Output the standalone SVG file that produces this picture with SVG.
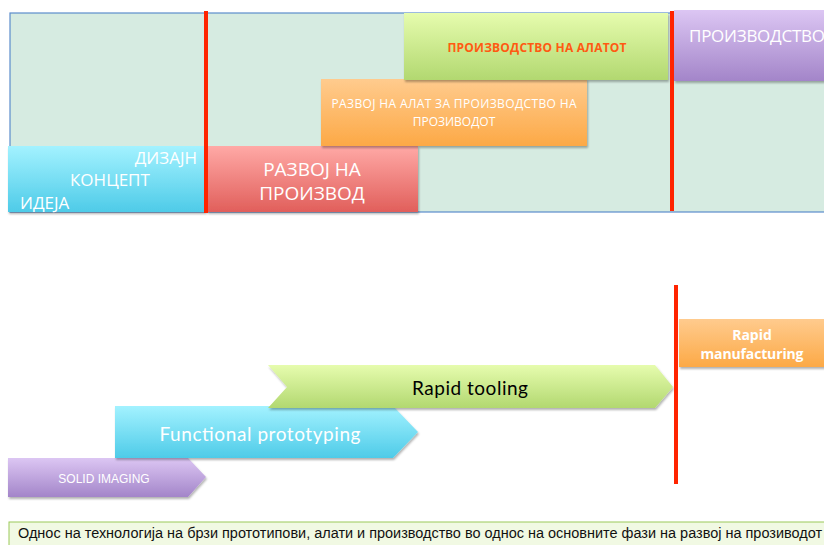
<svg xmlns="http://www.w3.org/2000/svg" width="824" height="545" viewBox="0 0 824 545">
  <defs>
    <linearGradient id="gBlue" x1="0" y1="0" x2="0" y2="1">
      <stop offset="0" stop-color="#a3f2ff"/>
      <stop offset="1" stop-color="#4ecbe8"/>
    </linearGradient>
    <linearGradient id="gRed" x1="0" y1="0" x2="0" y2="1">
      <stop offset="0" stop-color="#ffa9a6"/>
      <stop offset="1" stop-color="#e15f5b"/>
    </linearGradient>
    <linearGradient id="gOrange" x1="0" y1="0" x2="0" y2="1">
      <stop offset="0" stop-color="#ffcb8e"/>
      <stop offset="1" stop-color="#fca946"/>
    </linearGradient>
    <linearGradient id="gGreen" x1="0" y1="0" x2="0" y2="1">
      <stop offset="0" stop-color="#e6fcae"/>
      <stop offset="1" stop-color="#b2d870"/>
    </linearGradient>
    <linearGradient id="gPurple" x1="0" y1="0" x2="0" y2="1">
      <stop offset="0" stop-color="#dcc6f3"/>
      <stop offset="1" stop-color="#a385c9"/>
    </linearGradient>
    <filter id="shadow" x="-5%" y="-10%" width="110%" height="130%">
      <feDropShadow dx="1" dy="2" stdDeviation="1.2" flood-color="#000" flood-opacity="0.3"/>
    </filter>
    <style>
      .phase { stroke: none; filter: url(#shadow); }
      .cyr { font-family: "Open Sans", "Noto Sans", "DejaVu Sans", sans-serif; fill: #ffffff; }
      .lat { font-family: "Lato", "Open Sans", "Liberation Sans", sans-serif; }
      .milestone { stroke: #ff2400; stroke-width: 4; }
    </style>
  </defs>

  <rect width="824" height="545" fill="#ffffff"/>

  <!-- product development phases -->
  <g id="panel">
    <rect x="10" y="13" width="830" height="199" fill="#d6ebe1" stroke="#5b8dcc" stroke-width="1.2"/>
  </g>

  <g id="concept">
    <rect class="phase" x="8" y="146" width="198" height="66" fill="url(#gBlue)"/>
    <text class="cyr" x="197" y="164" font-size="17" text-anchor="end">ДИЗАЈН</text>
    <text class="cyr" x="70" y="186" font-size="17">КОНЦЕПТ</text>
    <text class="cyr" x="20" y="209" font-size="17">ИДЕЈА</text>
  </g>

  <g id="product-dev">
    <rect class="phase" x="207" y="146" width="211" height="66" fill="url(#gRed)"/>
    <text class="cyr" x="312" y="176" font-size="19" text-anchor="middle">РАЗВОЈ НА</text>
    <text class="cyr" x="312" y="200" font-size="19" text-anchor="middle">ПРОИЗВОД</text>
  </g>

  <g id="tool-dev">
    <rect class="phase" x="321" y="79" width="266" height="67" fill="url(#gOrange)"/>
    <text class="cyr" x="454" y="108" font-size="12" text-anchor="middle" textLength="245">РАЗВОЈ НА АЛАТ ЗА ПРОИЗВОДСТВО НА</text>
    <text class="cyr" x="454" y="126" font-size="12" text-anchor="middle">ПРОЗИВОДОТ</text>
  </g>

  <g id="tool-production">
    <rect class="phase" x="404" y="13" width="264" height="67" fill="url(#gGreen)"/>
    <text x="537" y="52" font-size="12" font-weight="bold" text-anchor="middle" fill="#ff5a12" font-family="Open Sans, Noto Sans, DejaVu Sans, sans-serif" textLength="179">ПРОИЗВОДСТВО НА АЛАТОТ</text>
  </g>

  <g id="production">
    <rect class="phase" x="674" y="10" width="160" height="71" fill="url(#gPurple)"/>
    <text class="cyr" x="689" y="42" font-size="17" textLength="136">ПРОИЗВОДСТВО</text>
  </g>

  <!-- rapid technologies -->
  <g id="solid-imaging">
    <path class="phase" d="M8,458 H188 L206,477 L188,497 H8 Z" fill="url(#gPurple)"/>
    <text x="104" y="483" font-size="12" text-anchor="middle" fill="#ffffff" font-family="Liberation Sans, Arial, sans-serif">SOLID IMAGING</text>
  </g>

  <g id="functional-prototyping">
    <path class="phase" d="M115,406 H393 L418,432 L393,458 H115 Z" fill="url(#gBlue)"/>
    <text class="lat" x="260" y="441" font-size="19" text-anchor="middle" fill="#ffffff" textLength="201">Functional prototyping</text>
  </g>

  <g id="rapid-tooling">
    <path class="phase" d="M268,365 H655 L673,387 L655,408 H268 L287,387 Z" fill="url(#gGreen)"/>
    <text class="lat" x="470" y="395" font-size="19" text-anchor="middle" fill="#000000" textLength="116">Rapid tooling</text>
  </g>

  <g id="rapid-manufacturing">
    <rect class="phase" x="679" y="319" width="155" height="48" fill="url(#gOrange)"/>
    <text x="752" y="340" font-size="14" font-weight="bold" text-anchor="middle" fill="#ffffff" font-family="Open Sans, Lato, sans-serif">Rapid</text>
    <text x="752" y="359" font-size="14" font-weight="bold" text-anchor="middle" fill="#ffffff" font-family="Open Sans, Lato, sans-serif" textLength="103">manufacturing</text>
  </g>

  <!-- milestone lines -->
  <g id="connectors">
    <line class="milestone" x1="206" y1="11" x2="206" y2="213"/>
    <line class="milestone" x1="672" y1="11" x2="672" y2="211"/>
    <line class="milestone" x1="676" y1="285" x2="676" y2="484"/>
  </g>

  <g id="caption">
    <rect x="9" y="522" width="830" height="30" fill="#f1f9e3" stroke="#9cc95a" stroke-width="1"/>
    <text x="18" y="538" font-size="14" fill="#111111" font-family="Liberation Sans, Arial, sans-serif" textLength="804" lengthAdjust="spacingAndGlyphs">Однос на технологија на брзи прототипови, алати и производство во однос на основните фази на развој на прозиводот</text>
  </g>
</svg>
